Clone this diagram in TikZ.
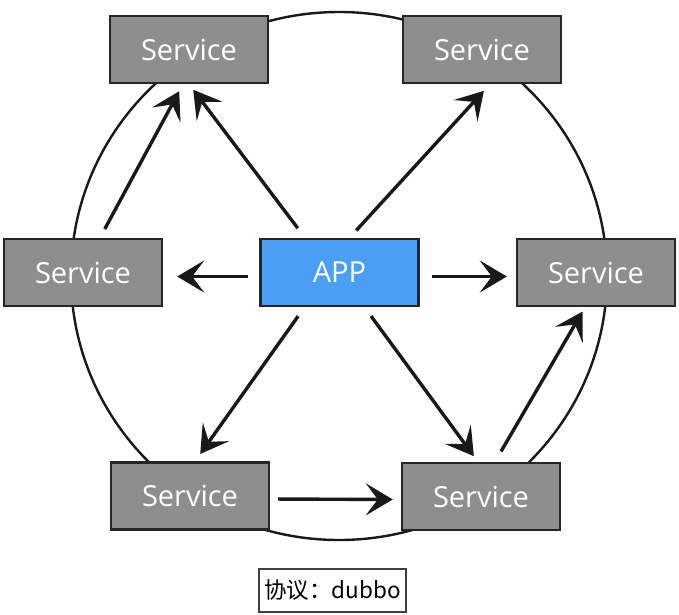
\documentclass[tikz,border=0pt]{standalone}
\usepackage{fontspec}
\setmainfont{Open Sans}
\newfontfamily\cjk{Noto Sans CJK SC}
\usetikzlibrary{arrows.meta}
\definecolor{svcgray}{HTML}{8E8E8E}
\definecolor{appblue}{HTML}{4A9FF5}
\begin{document}
\begin{tikzpicture}[x=1pt,y=-1pt,
  svc/.style={draw=black!85,line width=2.4pt,fill=svcgray,minimum width=158pt,minimum height=67pt,inner sep=0pt,text=white,font=\fontsize{29}{33}\selectfont},
  appbox/.style={svc,fill=appblue},
  arr/.style={-{Stealth[length=27pt,width=32pt,inset=12pt]},line width=3.4pt,black!90},
  lbl/.style={draw=black!75,line width=1.1pt,fill=white,minimum width=147pt,minimum height=43pt,inner sep=0pt,font=\cjk\fontsize{22.5}{26}\selectfont}]
\useasboundingbox (0,0) rectangle (679,614);
\fill[white] (0,0) rectangle (679,614);
\draw[line width=2.4pt,black!90] (339,276) ellipse [x radius=268pt, y radius=264pt];
\node[svc] (tl) at (189,49.5) {Service};
\node[svc] (tr) at (482,49.5) {Service};
\node[svc] (ml) at (83,272.5) {Service};
\node[appbox] (app) at (339.5,272.5) {APP};
\node[svc] (mr) at (596,272.5) {Service};
\node[svc] (bl) at (190,496) {Service};
\node[svc] (br) at (481,496.5) {Service};
\node[lbl] (proto) at (332.5,590.5) {协议：dubbo};
\draw[arr,shorten <=12pt,shorten >=7pt] ([xshift=-34.5pt]app.north) -- (tl.south);
\draw[arr,shorten <=10pt,shorten >=8pt] ([xshift=17pt]ml.north) -- ([xshift=-6pt]tl.south);
\draw[arr,shorten <=10pt,shorten >=9pt] ([xshift=10pt]app.north) -- ([xshift=8pt]tr.south);
\draw[arr,shorten <=11pt,shorten >=14pt] ([yshift=-4pt]app.west) -- ([yshift=-4pt]ml.east);
\draw[arr,shorten <=12pt,shorten >=9pt] ([yshift=-4pt]app.east) -- ([yshift=-4pt]mr.west);
\draw[arr,shorten <=11pt,shorten >=9pt] ([xshift=-35pt]app.south) -- ([xshift=5pt]bl.north);
\draw[arr,shorten <=11pt,shorten >=7pt] ([xshift=25pt]app.south) -- ([xshift=-3pt]br.north);
\draw[arr,shorten <=12pt,shorten >=5pt] ([xshift=14pt]br.north) -- ([xshift=-11pt]mr.south);
\draw[arr,shorten <=8pt,shorten >=8pt] ([yshift=-3pt]bl.east) -- ([yshift=-3pt]br.west);
\end{tikzpicture}
\end{document}
